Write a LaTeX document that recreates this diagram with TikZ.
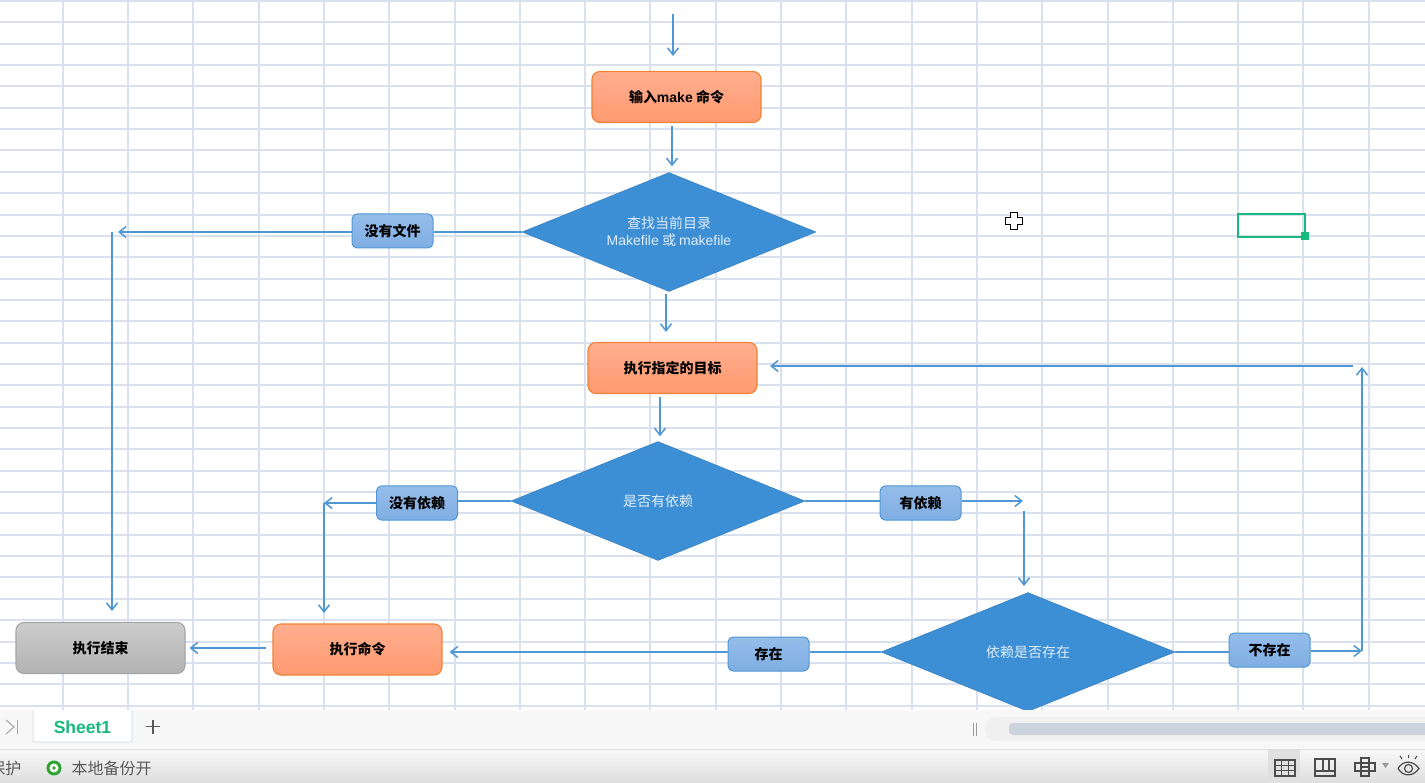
\documentclass[tikz,border=0pt]{standalone}
\usepackage{fontspec}
\setmainfont{Liberation Sans}
\newfontfamily\cjk{Noto Sans CJK SC}
\usetikzlibrary{shapes.geometric, arrows.meta}

\definecolor{gridblue}{HTML}{D9E1EF}
\definecolor{linkblue}{HTML}{4F98D5}
\definecolor{diafill}{HTML}{3C8ED5}
\definecolor{sheetgreen}{HTML}{18B97D}
\definecolor{orangetop}{HTML}{FFAE8F}
\definecolor{orangebot}{HTML}{FF9A70}
\definecolor{orangeline}{HTML}{F08236}
\definecolor{tagtop}{HTML}{95BDEA}
\definecolor{tagbot}{HTML}{7FAEE3}
\definecolor{thumbgray}{HTML}{CDD3DC}

\tikzset{
  flow/.style={draw=linkblue, line width=1.5pt, -{Straight Barb[length=7pt, width=11pt]}},
  link/.style={draw=linkblue, line width=1.5pt},
  boxbase/.style={rounded corners=8pt, minimum width=169pt, minimum height=51pt, line width=1.1pt, font=\fontsize{14}{16}\selectfont\bfseries\cjk},
  orangebox/.style={boxbase, draw=orangeline, top color=orangetop, bottom color=orangebot},
  graybox/.style={boxbase, draw=black!35, top color=black!20, bottom color=black!30},
  tagbox/.style={rounded corners=5pt, minimum width=81pt, minimum height=34pt, line width=1pt, draw=linkblue, top color=tagtop, bottom color=tagbot, font=\fontsize{14}{16}\selectfont\bfseries\cjk},
  decision/.style={diamond, aspect=2.47, draw=diafill!85!black, fill=diafill, minimum width=294pt, minimum height=119pt, inner sep=0pt, text=white!85!diafill, font=\fontsize{14}{17}\selectfont\cjk, align=center},
  status/.style={font=\fontsize{16}{18}\selectfont\cjk, text=black!65},
  icon/.style={black!70, line width=1.2pt},
}

\begin{document}
\begin{tikzpicture}[x=1pt, y=-1pt]
        \useasboundingbox (0,0) rectangle (1425,783);
        \fill [white] (0,0) rectangle (1425,783);

        % Sheet grid
        \foreach \k in {0,...,20} {
            \draw [gridblue, line width=2pt] ({round(62.7+65.3*\k)},0) -- ({round(62.7+65.3*\k)},710);
        }
        \foreach \k in {0,...,33} {
            \draw [gridblue, line width=2pt] (0,{round(1+21.35*\k)}) -- (1425,{round(1+21.35*\k)});
        }

        % Flowchart nodes
        \node [orangebox] (input) at (676.5,97) {输入{\rmfamily make} 命令};
        \node [decision] (find) at (669,232) {查找当前目录\\{\rmfamily Makefile} 或 {\rmfamily makefile}};
        \node [orangebox] (target) at (672.5,368) {执行指定的目标};
        \node [decision] (hasdep) at (658,501) {是否有依赖};
        \node [decision] (depexists) at (1028,652) {依赖是否存在};
        \node [orangebox] (run) at (357.5,649.5) {执行命令};
        \node [graybox] (finish) at (100.5,648) {执行结束};
        \node [tagbox] (nofile) at (392.5,231) {没有文件};
        \node [tagbox] (nodep) at (417,503) {没有依赖};
        \node [tagbox] (yesdep) at (920.5,503) {有依赖};
        \node [tagbox] (there) at (768.5,654) {存在};
        \node [tagbox] (notthere) at (1269.5,650) {不存在};

        % Free ends of the connectors
        \coordinate (start) at (673,14);
        \coordinate (startend) at (673,56);
        \coordinate (leftend) at (118,232);
        \coordinate (lefttop) at (112,232);
        \coordinate (leftbottom) at (112,611);
        \coordinate (nodepend) at (324,503);
        \coordinate (rundown) at (324,613);
        \coordinate (yesend) at (1023,501);
        \coordinate (yestop) at (1024,511);
        \coordinate (yesbottom) at (1024,586);
        \coordinate (backend) at (1362,651);
        \coordinate (backtop) at (1362,367);
        \coordinate (backstart) at (1353,366);
        \coordinate (backtip) at (770,366);

        % Connectors
        \draw [flow] (start) -- (startend);
        \draw [flow, shorten <=3pt, shorten >=6pt] ([xshift=-4.5pt]input.south) -- ([xshift=3pt]find.north);
        \draw [flow, shorten <=2pt, shorten >=10pt] ([xshift=-3pt]find.south) -- ([xshift=-6.5pt]target.north);
        \draw [flow, shorten <=3pt, shorten >=5pt] ([xshift=-12.5pt]target.south) -- ([xshift=2pt]hasdep.north);
        \draw [link] (find.west) -- (nofile.east |- find.west);
        \draw [flow] (nofile.west |- find.west) -- (leftend);
        \draw [flow] (lefttop) -- (leftbottom);
        \draw [link] (hasdep.west) -- (nodep.east |- hasdep.west);
        \draw [flow] (nodep.west) -- (nodepend);
        \draw [flow] (nodepend) -- (rundown);
        \draw [link] (hasdep.east) -- (yesdep.west |- hasdep.east);
        \draw [flow] (yesdep.east |- yesend) -- (yesend);
        \draw [flow] (yestop) -- (yesbottom);
        \draw [link] (depexists.west) -- (there.east |- depexists.west);
        \draw [flow] (there.west |- depexists.west) -- ([xshift=7pt]run.east |- depexists.west);
        \draw [link] (depexists.east) -- (notthere.west |- depexists.east);
        \draw [flow] (notthere.east |- backend) -- (backend);
        \draw [flow] (backend) -- (backtop);
        \draw [flow] (backstart) -- (backtip);
        \draw [flow, shorten <=6pt, shorten >=4pt] (run.west |- finish.east) -- (finish.east);

        % Selected cell and mouse cursor
        \draw [sheetgreen, line width=2.4pt] (1238,214) rectangle (1305,237);
        \node [fill=sheetgreen, minimum size=8pt, inner sep=0pt] (handle) at (1305,236.5) {};
        \draw [black, fill=white, line width=1.7pt] (1010.5,212.5) -- (1017.5,212.5) -- (1017.5,217.5) -- (1022.5,217.5) -- (1022.5,224.5) -- (1017.5,224.5) -- (1017.5,229.5) -- (1010.5,229.5) -- (1010.5,224.5) -- (1005.5,224.5) -- (1005.5,217.5) -- (1010.5,217.5) -- cycle;

        % Tab bar
        \fill [black!3] (0,710) rectangle (1425,749);
        \draw [black!12] (0,749) -- (1425,749);
        \draw [black!35, line width=1pt] (6,720) -- (14,727) -- (6,734);
        \draw [black!35, line width=1pt] (17,720) -- (17,734);
        \draw [gridblue, fill=white, line width=1pt, rounded corners=2pt] (33,710) -- (33,742) -- (132,742) -- (132,710);
        \node [text=sheetgreen, font=\fontsize{17.5}{19}\selectfont\bfseries] (sheet) at (82.5,727) {Sheet1};
        \draw [black!65, line width=1.4pt] (146,726.5) -- (160,726.5) (153,719.5) -- (153,733.5);
        \draw [black!40, line width=1pt] (973,723) -- (973,736) (976,723) -- (976,736);
        \fill [black!6, rounded corners=11pt] (985,717) rectangle (1440,741);
        \fill [thumbgray, rounded corners=4pt] (1009,723) rectangle (1440,735);

        % Status bar
        \shade [top color=black!3, bottom color=black!13] (0,750) rectangle (1425,783);
        \node [status, anchor=east] (protect) at (25,768) {保护};
        \draw [green!55!black!80, fill=white, line width=3pt] (54,768) circle (6pt);
        \fill [green!55!black!80] (54,768) circle (1.8pt);
        \node [status, anchor=west] (backup) at (68,768) {本地备份开};

        % View icons
        \fill [black!12] (1268,750) rectangle (1300,783);
        \draw [icon] (1275,760) rectangle (1295,776) (1275,765.3) -- (1295,765.3) (1275,770.6) -- (1295,770.6) (1281.7,760) -- (1281.7,776) (1288.4,760) -- (1288.4,776);
        \draw [icon] (1315,759) rectangle (1335,776) (1315,771) -- (1335,771) (1323,759) -- (1323,771) (1329,759) -- (1329,771);
        \draw [icon] (1361,758) rectangle (1369,776) (1355,763) rectangle (1375,771) (1361,767) -- (1369,767);
        \fill [black!40] (1382,763) -- (1389,763) -- (1385.5,768) -- cycle;
        \draw [icon] (1398,768.5) .. controls (1403,760) and (1413,760) .. (1419,768.5) .. controls (1413,777) and (1403,777) .. (1398,768.5);
        \draw [icon] (1408.5,768.5) circle (4pt);
        \draw [icon, line width=1pt] (1408.5,755) -- (1408.5,758) (1400,756) -- (1402,759) (1417,756) -- (1415,759);
    \end{tikzpicture}
\end{document}
